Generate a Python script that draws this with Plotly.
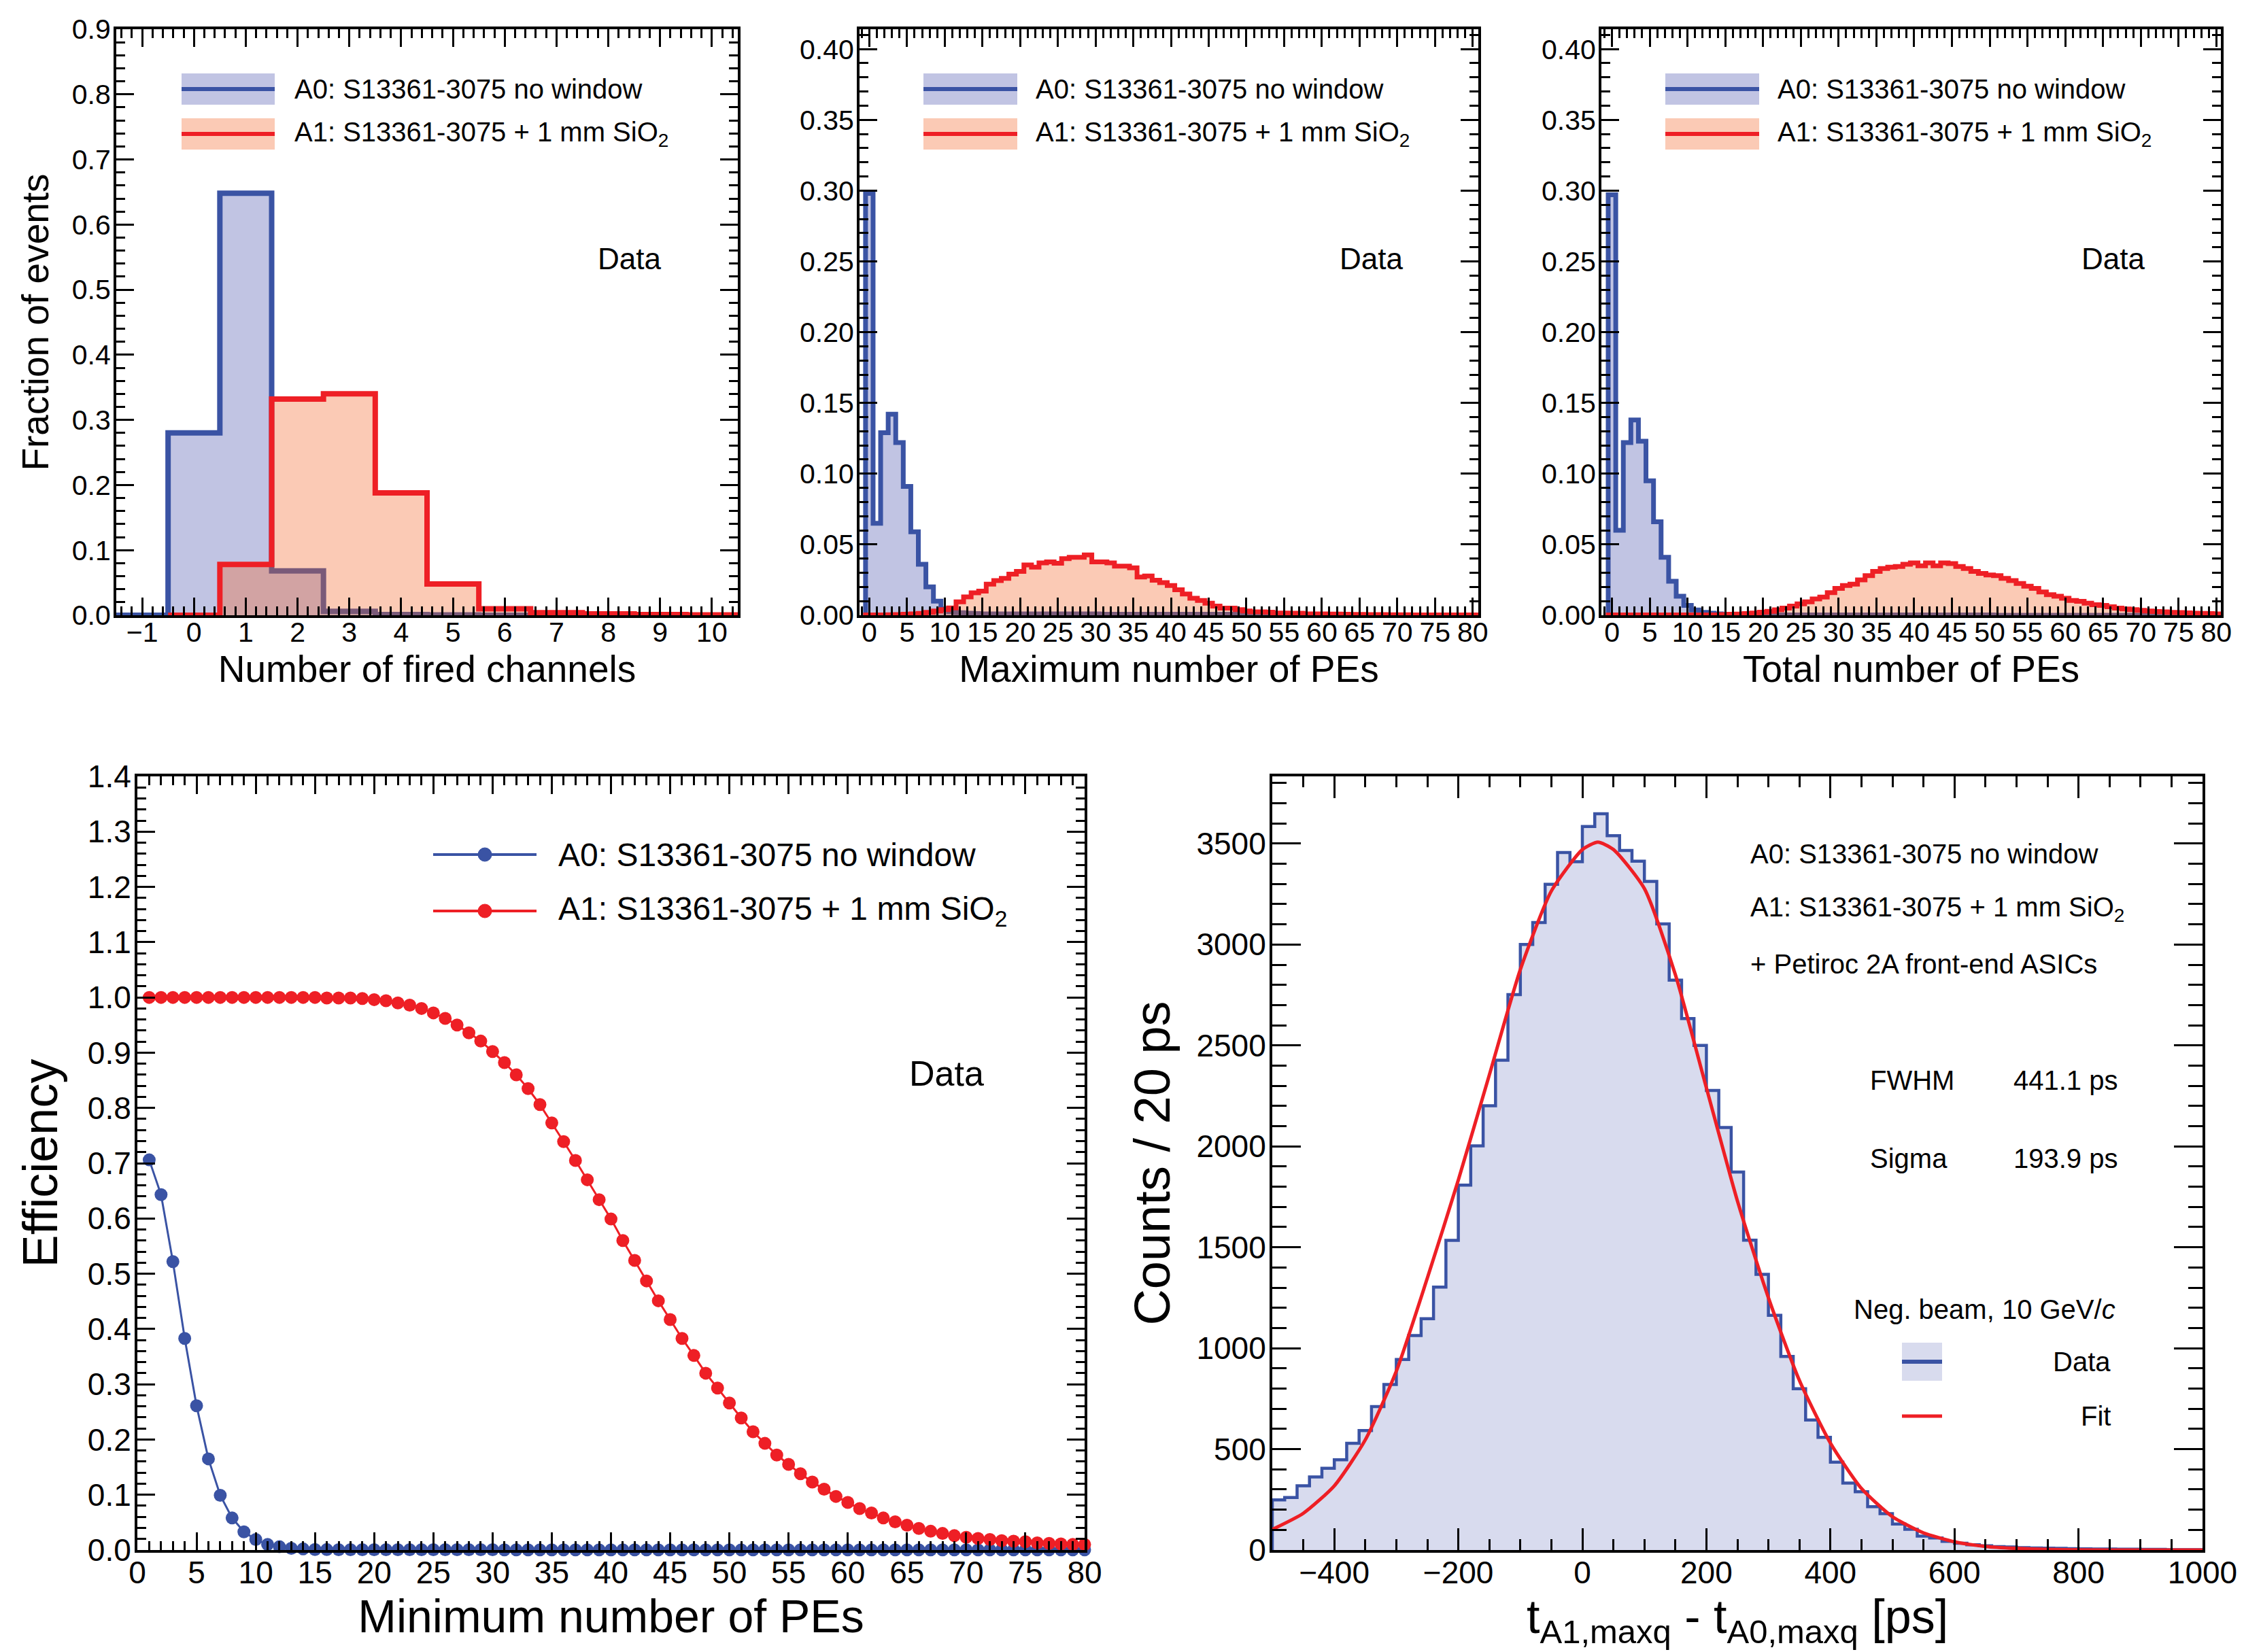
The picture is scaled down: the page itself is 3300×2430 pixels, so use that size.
import plotly.graph_objects as go

W, H = 3300, 2430
FONT = "Liberation Sans, Arial, sans-serif"
BLUE = "#3A53A4"
RED = "#EE1F25"
BLUE_FILL = "rgba(67,76,170,0.33)"
RED_FILL = "rgba(244,104,44,0.35)"
TIME_FILL = "#D8DBEE"

LABEL_A0 = "A0: S13361-3075 no window"
LABEL_A1 = "A1: S13361-3075 + 1 mm SiO<sub>2</sub>"

# ---- number of fired channels (bin centres, width 1)
fired_bins_a0 = [-1, 0, 1, 2, 3, 4, 5, 6, 7, 8, 9, 10]
fired_a0 = [0, 0.280, 0.648, 0.068, 0.006, 0.001, 0.0005, 0, 0, 0, 0, 0]
fired_bins_a1 = [0, 1, 2, 3, 4, 5, 6, 7, 8, 9, 10]
fired_a1 = [0, 0.078, 0.332, 0.340, 0.188, 0.048, 0.010, 0.004, 0.002, 0.001, 0.0005]

# ---- maximum number of PEs (bins 0..80)
pe_bins = list(range(0, 81))
max_a0 = [0.298, 0.065, 0.129, 0.142, 0.122, 0.091, 0.059, 0.036, 0.020, 0.010,
          0.0045, 0.0025, 0.0018, 0.0015, 0.0012, 0.001, 0.001, 0.001, 0.001, 0.001,
          0.001, 0.001, 0.001, 0.001, 0.001, 0.001, 0.001, 0.001, 0.001, 0.001,
          0.001, 0.0007, 0.0007, 0.0007, 0.0007, 0.0007, 0.0007, 0.0007, 0.0007, 0.0007,
          0.0007, 0.0007, 0.0007, 0.0007, 0.0007, 0.0007, 0.0007, 0.0007, 0.0007, 0.0007,
          0.0007, 0, 0, 0, 0, 0, 0, 0, 0, 0,
          0, 0, 0, 0, 0, 0, 0, 0, 0, 0,
          0, 0, 0, 0, 0, 0, 0, 0, 0, 0, 0]
max_a1 = [0.0003, 0.0003, 0.0003, 0.0004, 0.0005, 0.0007, 0.001, 0.0013, 0.002, 0.003,
          0.004, 0.0052, 0.0095, 0.013, 0.0158, 0.017, 0.022, 0.0245, 0.026, 0.029,
          0.031, 0.0355, 0.034, 0.037, 0.0377, 0.0368, 0.040, 0.041, 0.041, 0.0426,
          0.0377, 0.0377, 0.037, 0.0347, 0.0347, 0.0335, 0.027, 0.0277, 0.0247, 0.023,
          0.021, 0.018, 0.015, 0.012, 0.0105, 0.0085, 0.0065, 0.005, 0.005, 0.004,
          0.003, 0.0024, 0.0024, 0.0022, 0.0016, 0.0016, 0.0015, 0.0014, 0.001, 0.001,
          0.001, 0.0009, 0.0008, 0.0007, 0.0006, 0.0006, 0.0005, 0.0005, 0.0005, 0.0004,
          0.0004, 0.0004, 0.0003, 0.0003, 0.0003, 0.0003, 0.0002, 0.0002, 0.0002, 0.0002, 0.0002]

# ---- total number of PEs (bins 0..80)
tot_a0 = [0.297, 0.060, 0.122, 0.138, 0.123, 0.095, 0.066, 0.041, 0.024, 0.0135,
          0.007, 0.0037, 0.002, 0.0015, 0.001, 0.0005, 0.0005, 0.0005, 0.0005, 0.0005,
          0.0005, 0.0003, 0.0003, 0.0003, 0.0003, 0.0003, 0.0003, 0.0003, 0.0003, 0.0003,
          0.0003, 0.0003, 0.0003, 0.0003, 0.0003, 0.0003, 0.0003, 0.0003, 0.0003, 0.0003,
          0.0003, 0.0003, 0.0003, 0.0003, 0.0003, 0.0003, 0.0003, 0.0003, 0.0003, 0.0003,
          0.0003, 0, 0, 0, 0, 0, 0, 0, 0, 0,
          0, 0, 0, 0, 0, 0, 0, 0, 0, 0,
          0, 0, 0, 0, 0, 0, 0, 0, 0, 0, 0]
tot_a1 = [0.0002, 0.0002, 0.0002, 0.0002, 0.0002, 0.0002, 0.0002, 0.0002, 0.0002, 0.0002,
          0.0002, 0.0002, 0.0002, 0.0002, 0.0002, 0.0005, 0.0007, 0.0009, 0.0012, 0.0016,
          0.0022, 0.0028, 0.0038, 0.005, 0.0065, 0.008, 0.0095, 0.0115, 0.0128, 0.016,
          0.019, 0.021, 0.022, 0.025, 0.028, 0.031, 0.033, 0.034, 0.0345, 0.036,
          0.037, 0.035, 0.037, 0.035, 0.037, 0.0365, 0.0345, 0.033, 0.031, 0.0295,
          0.0285, 0.028, 0.026, 0.0245, 0.0225, 0.0205, 0.019, 0.0165, 0.0145, 0.0135,
          0.012, 0.0105, 0.0098, 0.0085, 0.0075, 0.007, 0.006, 0.005, 0.0045, 0.004,
          0.0035, 0.003, 0.0027, 0.0024, 0.0021, 0.0019, 0.0017, 0.0015, 0.0013, 0.0012, 0.001]

# ---- efficiency vs minimum number of PEs (1..80)
thresholds = list(range(1, 81))
eff_a0 = [0.706, 0.643, 0.522, 0.383, 0.261, 0.165, 0.099, 0.058, 0.033, 0.019,
          0.010, 0.006, 0.003, 0.002, 0.001, 0.0008, 0.0006, 0.0005, 0.0005, 0.0005,
          0.0005, 0.0005, 0.0005, 0.0005, 0.0005, 0.0005, 0.0005, 0.0005, 0.0005, 0.0005,
          0.0003, 0.0003, 0.0003, 0.0003, 0.0003, 0.0003, 0.0003, 0.0003, 0.0003, 0.0003,
          0.0003, 0.0003, 0.0003, 0.0003, 0.0003, 0.0003, 0.0003, 0.0003, 0.0003, 0.0003,
          0.0003, 0.0003, 0.0003, 0.0003, 0.0003, 0.0003, 0.0003, 0.0003, 0.0003, 0.0003,
          0.0003, 0.0003, 0.0003, 0.0003, 0.0003, 0.0003, 0.0003, 0.0003, 0.0003, 0.0003,
          0.0003, 0.0003, 0.0003, 0.0003, 0.0003, 0.0003, 0.0003, 0.0003, 0.0003, 0.0003]
eff_a1 = [1.0, 1.0, 1.0, 1.0, 1.0, 1.0, 1.0, 1.0, 1.0, 1.0,
          1.0, 1.0, 1.0, 1.0, 1.0, 0.999, 0.999, 0.999, 0.998, 0.996,
          0.994, 0.990, 0.986, 0.980, 0.972, 0.962, 0.950, 0.936, 0.921, 0.902,
          0.882, 0.860, 0.835, 0.806, 0.773, 0.739, 0.705, 0.670, 0.634, 0.599,
          0.560, 0.524, 0.487, 0.451, 0.417, 0.383, 0.352, 0.320, 0.293, 0.266,
          0.239, 0.214, 0.193, 0.172, 0.155, 0.138, 0.123, 0.110, 0.097, 0.086,
          0.075, 0.067, 0.058, 0.051, 0.045, 0.039, 0.034, 0.030, 0.026, 0.023,
          0.021, 0.019, 0.017, 0.016, 0.015, 0.013, 0.012, 0.011, 0.010, 0.010]

# ---- time difference histogram, 20 ps bins from -500 to 1000 (left edges)
dt_edges = list(range(-500, 1000, 20))
dt_counts = [248, 260, 318, 362, 405, 447, 529, 592, 711, 820,
             944, 1063, 1146, 1303, 1534, 1808, 2002, 2201, 2427, 2752,
             3000, 3109, 3298, 3456, 3410,
             3585, 3648, 3539, 3466, 3413, 3313, 3102, 2823, 2633, 2500,
             2277, 2093, 1873, 1535, 1366, 1163, 959, 799, 644, 558,
             435, 332, 289, 215, 180, 129, 103, 69, 60, 43,
             34, 26, 21, 17, 15,
             12, 10, 9, 8, 7, 6, 5, 5, 4, 4, 3, 3, 2, 2, 2]
fit_x = [-500, -450, -400, -350, -300, -250, -200, -150, -100, -50, 0, 25, 50,
         100, 150, 200, 250, 300, 350, 400, 450, 500, 550, 600, 650, 700, 750, 800, 900, 1000]
fit_y = [102, 182, 318, 546, 886, 1347, 1833, 2354, 2876, 3265, 3470, 3507, 3471,
         3277, 2850, 2290, 1730, 1250, 840, 530, 305, 165, 85, 41, 18, 8, 3, 1, 0, 0]


def px(x):
    return x / W


def py(y):
    return 1 - y / H


def steps(centres, vals, width=1.0, close=False):
    xs = [c - width / 2 for c in centres] + [centres[-1] + width / 2]
    ys = list(vals) + [vals[-1]]
    if close:
        xs = [xs[0]] + xs + [xs[-1]]
        ys = [0] + ys + [0]
    return xs, ys


fig = go.Figure()

def hist(xa, ya, centres, vals, color, fill, lw, close=False, width=1.0):
    xs, ys = steps(centres, vals, width, close)
    fig.add_trace(go.Scatter(x=xs, y=ys, xaxis=xa, yaxis=ya, mode="lines",
                             line=dict(color=color, width=lw, shape="hv"),
                             fill="tozeroy", fillcolor=fill, showlegend=False,
                             hoverinfo="skip"))

# top panels
hist("x", "y", fired_bins_a0, fired_a0, BLUE, BLUE_FILL, 8)
hist("x", "y", fired_bins_a1, fired_a1, RED, RED_FILL, 8)
hist("x2", "y2", pe_bins, max_a0, BLUE, BLUE_FILL, 7, close=True)
hist("x2", "y2", pe_bins, max_a1, RED, RED_FILL, 7, close=True)
hist("x3", "y3", pe_bins, tot_a0, BLUE, BLUE_FILL, 7, close=True)
hist("x3", "y3", pe_bins, tot_a1, RED, RED_FILL, 7, close=True)

# efficiency
fig.add_trace(go.Scatter(x=thresholds, y=eff_a0, xaxis="x4", yaxis="y4", mode="lines+markers",
                         line=dict(color=BLUE, width=3), marker=dict(color=BLUE, size=19),
                         cliponaxis=False, showlegend=False))
fig.add_trace(go.Scatter(x=thresholds, y=eff_a1, xaxis="x4", yaxis="y4", mode="lines+markers",
                         line=dict(color=RED, width=3), marker=dict(color=RED, size=19),
                         cliponaxis=False, showlegend=False))

# time difference
dt_centres = [e + 10 for e in dt_edges]
hist("x5", "y5", dt_centres, dt_counts, BLUE, TIME_FILL, 4.5, close=True, width=20)
fig.add_trace(go.Scatter(x=fit_x, y=fit_y, xaxis="x5", yaxis="y5", mode="lines",
                         line=dict(color=RED, width=5, shape="spline", smoothing=0.6),
                         showlegend=False, hoverinfo="skip"))


def axis(domain, rng, dtick, minor, ticklen, fmt, size, anchor, title=None,
         tsize=None, standoff=0, **kw):
    d = dict(domain=domain, range=rng, anchor=anchor, showgrid=False, zeroline=False,
             showline=True, linecolor="black", linewidth=4, mirror="ticks",
             ticks="inside", ticklen=ticklen, tickwidth=3, tickcolor="black",
             dtick=dtick, tick0=0, tickformat=fmt, automargin=False,
             tickfont=dict(family=FONT, size=size, color="black"),
             minor=dict(ticks="inside", ticklen=ticklen // 2, tickwidth=3,
                        tickcolor="black", dtick=minor, tick0=0))
    if title:
        d["title"] = dict(text=title, font=dict(family=FONT, size=tsize, color="black"),
                          standoff=standoff)
    d.update(kw)
    return d


top_y = [py(897), py(35)]
bot_y = [py(2272), py(1134)]

fig.update_layout(
    width=W, height=H, margin=dict(l=0, r=0, t=0, b=0),
    paper_bgcolor="white", plot_bgcolor="white",
    xaxis=axis([px(163), px(1077)], [-1.5, 10.5], 1, 0.2, 26, "d", 41, "y",
               "Number of fired channels", 55, 6, ticklabelstandoff=-14),
    yaxis=axis(top_y, [0, 0.9], 0.1, 0.02, 26, ".1f", 41, "x",
               "Fraction of events", 55, 18, ticklabelstandoff=-4),
    xaxis2=axis([px(1256), px(2166)], [-1.3, 80.75], 5, 1, 26, "d", 41, "y2",
                "Maximum number of PEs", 55, 6, ticklabelstandoff=-14),
    yaxis2=axis(top_y, [0, 0.414], 0.05, 0.01, 26, ".2f", 41, "x2", ticklabelstandoff=-4),
    xaxis3=axis([px(2347), px(3258)], [-1.4, 80.6], 5, 1, 26, "d", 41, "y3",
                "Total number of PEs", 55, 6, ticklabelstandoff=-14),
    yaxis3=axis(top_y, [0, 0.414], 0.05, 0.01, 26, ".2f", 41, "x3", ticklabelstandoff=-4),
    xaxis4=axis([px(194), px(1587)], [0, 80], 5, 1, 26, "d", 46, "y4",
                "Minimum number of PEs", 68, 12, ticklabelstandoff=-10),
    yaxis4=axis(bot_y, [0, 1.4], 0.1, 0.02, 26, ".1f", 46, "x4",
                "Efficiency", 72, 22, ticklabelstandoff=-4),
    xaxis5=axis([px(1863), px(3231)], [-500, 1000], 200, 50, 32, "d", 46, "y5",
                ticklabelstandoff=-10),
    yaxis5=axis(bot_y, [0, 3833], 500, 100, 42, "d", 46, "x5",
                "Counts / 20 ps", 74, 16, ticklabelstandoff=-4),
)

shapes = []
annotations = []


def text(x, y, s, size, xanchor="left", yanchor="middle"):
    annotations.append(dict(x=px(x), y=py(y), xref="paper", yref="paper", text=s,
                            showarrow=False, xanchor=xanchor, yanchor=yanchor,
                            borderpad=0,
                            font=dict(family=FONT, size=size, color="black")))


def hist_key(x0, x1, yc, half, color, fill, lw):
    shapes.append(dict(type="rect", xref="paper", yref="paper", x0=px(x0), x1=px(x1),
                       y0=py(yc + half), y1=py(yc - half), fillcolor=fill,
                       line=dict(width=0), layer="above"))
    shapes.append(dict(type="line", xref="paper", yref="paper", x0=px(x0), x1=px(x1),
                       y0=py(yc), y1=py(yc), line=dict(color=color, width=lw), layer="above"))


# legends of the top panels
for bx0, bx1, tx, dx in [(259, 396, 424, 870), (1350, 1488, 1514, 1961), (2441, 2579, 2605, 3052)]:
    hist_key(bx0, bx1, 123, 23, BLUE, BLUE_FILL, 6)
    hist_key(bx0, bx1, 189, 23, RED, RED_FILL, 6)
    text(tx, 123, LABEL_A0, 40)
    text(tx, 189, LABEL_A1, 40)
    text(dx, 372, "Data", 44)

# legend of the efficiency panel
for yc, color in [(1249, BLUE), (1332, RED)]:
    shapes.append(dict(type="line", xref="paper", yref="paper", x0=px(629), x1=px(781),
                       y0=py(yc), y1=py(yc), line=dict(color=color, width=4), layer="above"))
    shapes.append(dict(type="circle", xref="paper", yref="paper", x0=px(695), x1=px(715),
                       y0=py(yc + 10), y1=py(yc - 10), fillcolor=color,
                       line=dict(color=color, width=1), layer="above"))
text(812, 1249, LABEL_A0, 48)
text(812, 1332, LABEL_A1, 48)
text(1328, 1571, "Data", 52)

# x title of the timing panel
text(2547, 2330, "t<sub>A1,maxq</sub> - t<sub>A0,maxq</sub> [ps]", 70, "center", "top")

# text of the timing panel
text(2565, 1248, LABEL_A0, 40)
text(2565, 1329, LABEL_A1, 40)
text(2565, 1410, "+ Petiroc 2A front-end ASICs", 40)
text(2741, 1581, "FWHM", 40)
text(3107, 1581, "441.1 ps", 40, "right")
text(2741, 1696, "Sigma", 40)
text(3107, 1696, "193.9 ps", 40, "right")
text(3104, 1918, "Neg. beam, 10 GeV/<i>c</i>", 40, "right")
hist_key(2789, 2848, 1995, 28, BLUE, TIME_FILL, 6)
text(3097, 1995, "Data", 40, "right")
shapes.append(dict(type="line", xref="paper", yref="paper", x0=px(2789), x1=px(2848),
                   y0=py(2075), y1=py(2075), line=dict(color=RED, width=5), layer="above"))
text(3097, 2075, "Fit", 40, "right")

fig.update_layout(shapes=shapes, annotations=annotations)
fig.write_html("out.html")
